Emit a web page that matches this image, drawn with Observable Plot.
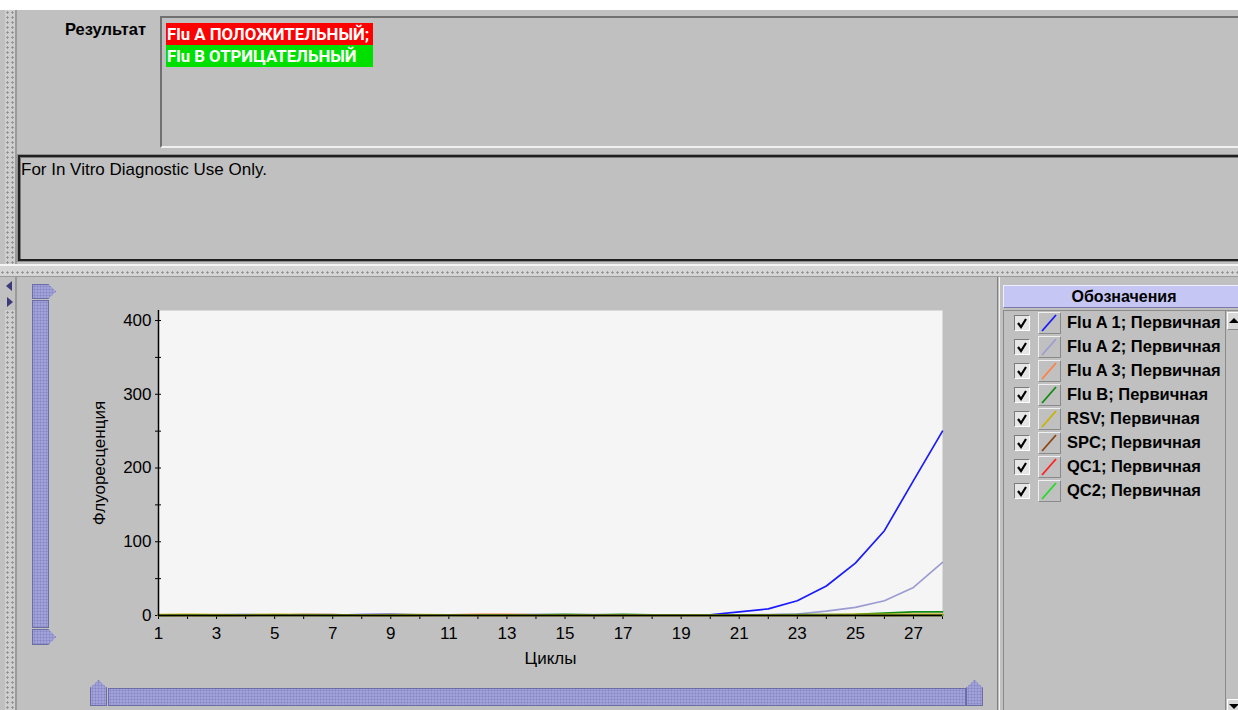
<!DOCTYPE html>
<html><head><meta charset="utf-8">
<script src="https://cdn.jsdelivr.net/npm/d3@7"></script>
<script src="https://cdn.jsdelivr.net/npm/@observablehq/plot@0.6"></script>
<style>
html,body{margin:0;padding:0;}
body{width:1238px;height:710px;position:relative;overflow:hidden;background:#c0c0c0;font-family:"Liberation Sans",Arial,sans-serif;color:#000;}
.a{position:absolute;box-sizing:border-box;}
.dots{background-color:#cfcfcf;background-image:radial-gradient(circle at 50% 50%, #8f8f8f 0.9px, transparent 1.4px);background-size:5px 5px;}
.sl{background-color:#a2a2da;background-image:radial-gradient(circle at 50% 50%, #8585c4 0.8px, transparent 1.2px);background-size:3px 3px;border:1px solid #6d6da6;}
.chk{width:16px;height:16px;border:1px solid;border-color:#7a7a7a #ffffff #ffffff #7a7a7a;background:#e6e6e6;}
.sw{width:23px;height:22px;border:1px solid;border-color:#f0f0f0 #8a8a8a #8a8a8a #f0f0f0;}
.lt{font-weight:bold;font-size:16.5px;white-space:nowrap;}
</style></head>
<body>
<div class="a" style="left:0;top:0;width:1238px;height:10px;background:#fff"></div>
<!-- left splitter strips -->
<div class="a dots" style="left:5px;top:10px;width:10px;height:255px;"></div>
<div class="a" style="left:15px;top:10px;width:2px;height:255px;background:#9a9a9a"></div>
<div class="a dots" style="left:5px;top:310px;width:10px;height:400px;"></div>
<div class="a" style="left:15px;top:277px;width:2px;height:433px;background:#9a9a9a"></div>
<div class="a" style="left:6px;top:281px;width:0;height:0;border-top:5px solid transparent;border-bottom:5px solid transparent;border-right:6px solid #3a3a7a;"></div>
<div class="a" style="left:7px;top:297px;width:0;height:0;border-top:5px solid transparent;border-bottom:5px solid transparent;border-left:6px solid #3a3a7a;"></div>
<!-- horizontal splitter -->
<div class="a" style="left:0;top:264px;width:1238px;height:13px;background-color:#d6d6d6;background-image:radial-gradient(circle at 50% 50%, #8f8f8f 0.9px, transparent 1.4px);background-size:5px 13px;border-top:2px solid #f4f4f4;border-bottom:1px solid #9a9a9a"></div>

<!-- result section -->
<div class="a lt" style="left:65px;top:20px;font-size:16.5px;">Результат</div>
<div class="a" style="left:160px;top:16px;width:1100px;height:132px;border:2px solid;border-color:#707070 #f0f0f0 #f0f0f0 #707070;"></div>
<div class="a" id="res" style="left:166px;top:23px;"></div>

<div class="a" style="left:18px;top:155px;width:1240px;height:106px;border:2px solid #202020;box-shadow:inset 1px 1px 0 #7a7a7a, 0 0 0 1px #909090;"></div>
<div class="a" style="left:21px;top:160px;font-size:17px;">For In Vitro Diagnostic Use Only.</div>

<!-- left vertical slider -->
<div class="a sl" style="left:32px;top:284px;width:24px;height:15px;clip-path:polygon(0 0,68% 0,100% 50%,68% 100%,0 100%);"></div>
<div class="a sl" style="left:32px;top:300px;width:17px;height:328px;"></div>
<div class="a sl" style="left:32px;top:629px;width:24px;height:16px;clip-path:polygon(0 0,68% 0,100% 50%,68% 100%,0 100%);"></div>
<!-- bottom horizontal slider -->
<div class="a sl" style="left:90px;top:680px;width:17px;height:26px;clip-path:polygon(0 30%,50% 0,100% 30%,100% 100%,0 100%);"></div>
<div class="a sl" style="left:108px;top:688px;width:858px;height:18px;"></div>
<div class="a sl" style="left:966px;top:680px;width:17px;height:26px;clip-path:polygon(0 30%,50% 0,100% 30%,100% 100%,0 100%);"></div>

<!-- legend panel -->
<div class="a" style="left:997px;top:277px;width:1px;height:433px;background:#7f7f7f"></div>
<div class="a" style="left:999px;top:277px;width:1px;height:433px;background:#f2f2f2"></div>
<div class="a" style="left:1003px;top:285px;width:240px;height:23px;background:#c6c6f4;border:1px solid;border-color:#eeeeff #7a7aa8 #7a7aa8 #eeeeff;font-weight:bold;font-size:16px;text-align:center;line-height:22px;padding-left:2px;">Обозначения</div>
<div class="a" style="left:1003px;top:310px;width:240px;height:410px;border:1px solid;border-color:#8a8a8a #f0f0f0 #f0f0f0 #8a8a8a;"></div>
<div class="a" style="left:1225px;top:311px;width:1px;height:400px;background:#8a8a8a"></div>
<div class="a" style="left:1227px;top:312px;width:14px;height:18px;background:#d8d8d8;border:1px solid;border-color:#fff #888 #888 #fff;"></div>
<div class="a" style="left:1229px;top:318px;width:0;height:0;border-left:5px solid transparent;border-right:5px solid transparent;border-bottom:5px solid #000;"></div>
<div class="a" style="left:1227px;top:699px;width:14px;height:18px;background:#d8d8d8;border:1px solid;border-color:#fff #888 #888 #fff;"></div>
<div class="a" style="left:1229px;top:704px;width:0;height:0;border-left:5px solid transparent;border-right:5px solid transparent;border-top:5px solid #000;"></div>
<div id="legend"></div>

<div class="a" id="chart" style="left:60px;top:295px;"></div>

<script>
// ---- data ----
const resultLines = ["Flu A ПОЛОЖИТЕЛЬНЫЙ;", "Flu B ОТРИЦАТЕЛЬНЫЙ"];
const resultColors = ["#ff0000", "#00e000"];

const cycles = [1,2,3,4,5,6,7,8,9,10,11,12,13,14,15,16,17,18,19,20,21,22,23,24,25,26,27,28];
const xTicks = cycles;
const yTicks = [0,50,100,150,200,250,300,350,400];

const seriesNames = ["Flu A 1","Flu A 2","Flu A 3","Flu B","RSV","SPC","QC1","QC2"];
const seriesColors = ["#1a1aff","#9c9cd2","#ff8040","#138a13","#c8b400","#8b4513","#ff2020","#22dd22"];

const fluA1 = [0.6,0.5,0.4,0.5,0.6,0.5,0.7,1.3,1.6,0.8,0.6,0.5,0.4,0.5,0.6,0.5,0.7,0.6,0.8,1.0,5,9,20,40,71,115,183,250];
const fluA2 = [0.4,0.6,0.9,1.5,0.7,0.5,0.6,0.5,0.6,0.7,0.5,0.6,0.8,1.4,0.9,1.3,0.7,0.6,0.8,0.9,1.0,1.1,2,6,11,20,38,72];
const fluA3 = [0.5,0.4,0.6,0.5,0.4,0.6,0.8,0.5,0.4,0.6,0.9,1.5,1.6,0.8,0.7,0.6,0.8,0.7,0.9,0.8,0.7,0.8,0.9,0.8,0.9,1.0,1.1,1.2];
const fluB  = [0.3,0.4,0.3,0.4,0.5,0.4,0.3,0.4,0.3,0.5,0.4,0.6,0.5,1.0,1.5,1.0,1.4,1.0,0.9,0.8,0.9,1.0,1.1,1.2,1.4,3.2,4.8,5.0];
const rsv   = [1.3,1.4,1.3,1.0,1.4,1.1,0.9,0.8,1.3,1.1,0.9,0.8,0.7,0.6,0.7,0.6,0.5,0.6,0.5,0.6,0.7,0.9,1.0,1.3,1.5,1.4,1.5,1.5];
const spc   = [0.2,0.3,0.2,0.3,0.4,1.1,1.2,0.3,0.2,0.3,0.4,0.3,0.2,0.3,0.2,0.3,0.2,0.1,0.2,0.3,0.2,0.3,0.2,0.3,0.4,0.3,0.4,0.5];
const qc1   = [0.1,0.2,0.1,0.2,0.1,0.2,0.1,0.2,0.1,0.2,0.1,0.2,0.1,0.2,0.1,0.2,0.1,0.2,0.1,0.2,0.1,0.2,0.1,0.2,0.1,0.2,0.1,0.2];
const qc2   = [0.2,0.1,0.2,0.1,0.2,0.1,0.2,0.1,0.2,0.1,0.2,0.1,0.2,0.1,0.2,0.1,0.2,0.1,0.2,0.1,0.2,0.1,0.2,0.1,0.2,0.1,0.2,0.1];
const seriesValues = [fluA1, fluA2, fluA3, fluB, rsv, spc, qc1, qc2];

// ---- result labels ----
const res = document.getElementById("res");
resultLines.forEach((t, i) => {
  const d = document.createElement("div");
  d.textContent = t;
  d.style.cssText = `width:206px;height:22px;background:${resultColors[i]};color:#fff;font-family:Roboto,'Liberation Sans',sans-serif;font-weight:bold;font-size:16.8px;line-height:22px;padding-left:1px;white-space:nowrap;overflow:hidden;`;
  res.appendChild(d);
});

// ---- legend ----
const leg = document.getElementById("legend");
seriesNames.forEach((n, i) => {
  const y = 311 + i * 24;
  const row = document.createElement("div");
  row.innerHTML = `
   <div class="a chk" style="left:1014px;top:${y + 4}px;"><svg width="14" height="14" style="position:absolute;left:0;top:0"><path d="M3,7 L6,11 L11,3" stroke="#000" stroke-width="2.2" fill="none"/></svg></div>
   <div class="a sw" style="left:1038px;top:${y + 1}px;"><svg width="21" height="20" style="position:absolute;left:0;top:0"><line x1="3" y1="18" x2="17" y2="2" stroke="${seriesColors[i]}" stroke-width="1.8"/></svg></div>
   <div class="a lt" style="left:1067px;top:${y + 2}px;">${n}; Первичная</div>`;
  leg.appendChild(row);
});

// ---- chart ----
const rows = [];
seriesNames.forEach((n, i) => cycles.forEach((c, j) => rows.push({series: n, cycle: c, value: seriesValues[i][j]})));

const chart = Plot.plot({
  width: 900, height: 380,
  marginLeft: 98, marginRight: 18, marginTop: 15, marginBottom: 60,
  style: {background: "transparent", fontFamily: "'Liberation Sans', Arial, sans-serif", fontSize: "17px", color: "#000"},
  x: {domain: [1, 28]},
  y: {domain: [0, 413.6]},
  color: {domain: seriesNames, range: seriesColors},
  marks: [
    Plot.frame({fill: "#f5f5f5", stroke: null}),
    Plot.axisX({ticks: xTicks, tickFormat: d => d % 2 ? String(d) : "", tickSize: 4, tickPadding: 7, fontSize: 17, label: "Циклы", labelArrow: false, labelAnchor: "center", labelOffset: 48}),
    Plot.axisY({ticks: yTicks, tickFormat: d => d % 100 === 0 ? String(d) : "", tickSize: 6, dx: 3, tickPadding: 4, fontSize: 17, label: "Флуоресценция", labelArrow: false, labelAnchor: "center", labelOffset: 66}),
    Plot.lineY(rows, {x: "cycle", y: "value", z: "series", stroke: "series", strokeWidth: 1.7}),
    Plot.ruleX([1], {stroke: "#000", strokeWidth: 1.5}),
    Plot.ruleY([0], {stroke: "#000", strokeWidth: 1.5})
  ]
});
document.getElementById("chart").appendChild(chart);
</script>
</body></html>
